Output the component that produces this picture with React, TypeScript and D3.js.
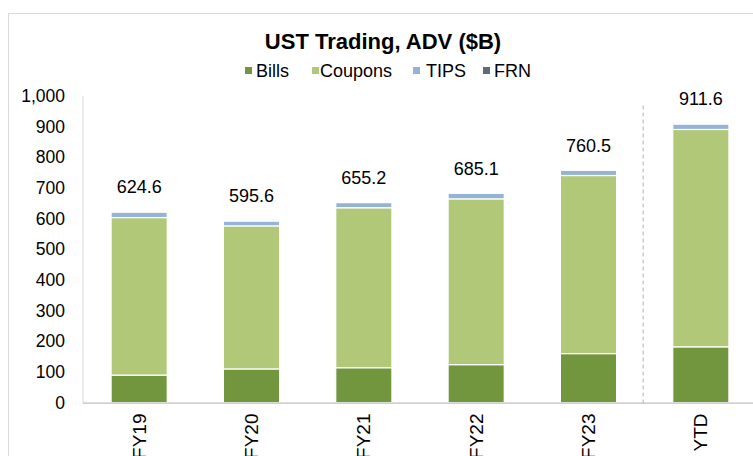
import React from "react";
import * as d3 from "d3";

const categories = ["FY19", "FY20", "FY21", "FY22", "FY23", "YTD"];
const bills = [90, 110, 114, 124, 160, 182];
const coupons = [513, 466, 521, 540, 580, 708];
const tips = [18, 16, 17, 18, 17, 18];
const frn = [3.6, 3.6, 3.2, 3.1, 3.5, 3.6];
const totals = [624.6, 595.6, 655.2, 685.1, 760.5, 911.6];
const totalLabels = ["624.6", "595.6", "655.2", "685.1", "760.5", "911.6"];
const seriesNames = ["Bills", "Coupons", "TIPS", "FRN"];
const yTicks = [0, 100, 200, 300, 400, 500, 600, 700, 800, 900, 1000];

const colors = ["#71963E", "#B0C878", "#95B3D7", "#5F6B7D"];
const FONT = "'Liberation Sans', Arial, sans-serif";

export default function App() {
  const W = 753;
  const H = 456;
  const left = 83;
  const right = 757;
  const y0 = 402.7;
  const y1000 = 95.7;

  const x = d3.scaleBand<string>().domain(categories).range([left, right]).paddingInner(0.5).paddingOuter(0.25);
  const y = d3.scaleLinear().domain([0, 1000]).range([y0, y1000]);
  const fmt = d3.format(",");

  const table = categories.map((c, i) => ({
    cat: c,
    Bills: bills[i],
    Coupons: coupons[i],
    TIPS: tips[i],
    FRN: frn[i],
  }));
  const stacked = d3.stack<any>().keys(seriesNames)(table);

  const sepX = (x("FY23")! + x.bandwidth() + x("YTD")!) / 2 - 1.5;

  const legendSq = [245, 312, 413, 483];
  const legendTx = [256, 320, 426, 494];

  return (
    <svg width={W} height={H} style={{ position: "absolute", left: 0, top: 0 }} fontFamily={FONT}>
      <rect x={0} y={0} width={W} height={H} fill="#fff" />
      <rect x={8.5} y={13.5} width={W + 20} height={H + 20} fill="none" stroke="#d9d9d9" strokeWidth={1} />
      <text x={383} y={49.3} textAnchor="middle" fontSize={22} fontWeight="bold" fill="#000">
        UST Trading, ADV ($B)
      </text>
      {seriesNames.map((s, i) => (
        <g key={s}>
          <rect x={legendSq[i]} y={67} width={7} height={7} fill={colors[i]} />
          <text x={legendTx[i]} y={76.7} fontSize={18} fill="#000">
            {s}
          </text>
        </g>
      ))}
      {/* y axis */}
      <line x1={left} x2={left} y1={y1000} y2={y0} stroke="#d9d9d9" strokeWidth={1} />
      {yTicks.map((t) => (
        <text key={t} x={65} y={y(t)} dy="0.35em" textAnchor="end" fontSize={17.5} fill="#000">
          {fmt(t)}
        </text>
      ))}
      {/* bars */}
      {stacked.map((layer, si) => (
        <g key={layer.key}>
          {layer.map((d, i) => (
            <rect
              key={i}
              x={x(categories[i])}
              width={x.bandwidth()}
              y={y(d[1])}
              height={Math.max(0, y(d[0]) - y(d[1]))}
              fill={colors[si]}
              stroke="#fff"
              strokeWidth={1.2}
            />
          ))}
        </g>
      ))}
      {/* x axis */}
      <line x1={left} x2={W} y1={y0 + 0.5} y2={y0 + 0.5} stroke="#bfbfbf" strokeWidth={1.3} />
      {/* separator */}
      <line x1={sepX} x2={sepX} y1={y(968)} y2={405} stroke="#bfbfbf" strokeWidth={1.2} strokeDasharray="4,3" />
      {/* total labels */}
      {categories.map((c, i) => (
        <text key={c} x={x(c)! + x.bandwidth() / 2} y={y(totals[i]) - 17.5} textAnchor="middle" fontSize={18} fill="#000">
          {totalLabels[i]}
        </text>
      ))}
      {/* category labels */}
      {categories.map((c) => (
        <text
          key={c}
          transform={`translate(${x(c)! + x.bandwidth() / 2},413.5) rotate(-90)`}
          dy="0.35em"
          textAnchor="end"
          fontSize={19}
          fill="#000"
        >
          {c}
        </text>
      ))}
    </svg>
  );
}
